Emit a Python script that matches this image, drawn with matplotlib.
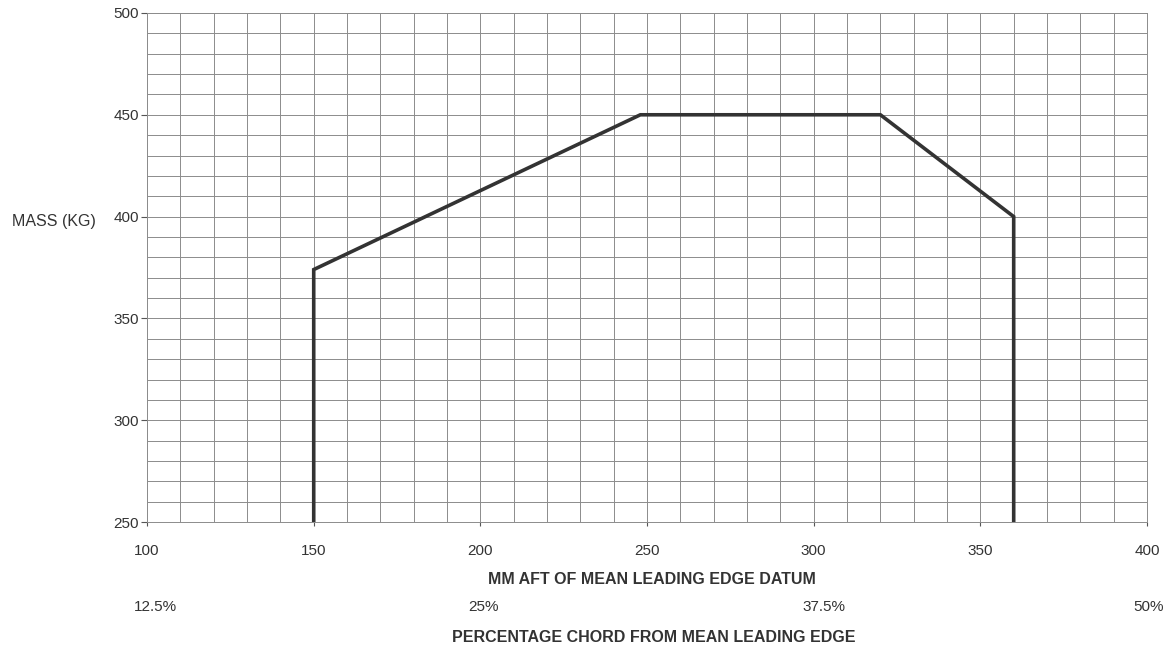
import matplotlib
matplotlib.use("Agg")
import matplotlib.pyplot as plt
import matplotlib.transforms as mtransforms
import numpy as np

# C of G envelope corners (mm aft of datum, mass kg)
envelope_mm = [150, 150, 248, 320, 360, 360]
envelope_kg = [250, 374, 450, 450, 400, 250]

x_ticks = [100, 150, 200, 250, 300, 350, 400]
y_ticks = [250, 300, 350, 400, 450, 500]

pct_labels = ["12.5%", "25%", "37.5%", "50%"]
pct_mm = [102.5, 201, 303, 400.5]

plt.rcParams["font.family"] = ["Liberation Sans", "DejaVu Sans"]

fig = plt.figure(figsize=(11.69, 6.47), dpi=100)
ax = fig.add_axes([0.1258, 0.193, 0.8554, 0.787])

ax.plot(envelope_mm, envelope_kg, color="#333333", linewidth=2.6,
        solid_joinstyle="miter", zorder=3)

ax.set_xlim(100, 400)
ax.set_ylim(250, 500)
ax.set_xticks(x_ticks)
ax.set_yticks(y_ticks)
ax.set_xticks(np.arange(100, 401, 10), minor=True)
ax.set_yticks(np.arange(250, 501, 10), minor=True)
ax.grid(True, which="both", color="#8c8c8c", linewidth=0.7)
ax.set_axisbelow(True)

for side in ["left", "bottom", "top", "right"]:
    ax.spines[side].set_color("#8c8c8c")
    ax.spines[side].set_linewidth(0.7)

ax.tick_params(axis="y", which="major", length=4, width=0.8, color="#555555",
               labelsize=11, labelcolor="#333333", pad=2)
ax.tick_params(axis="x", which="major", length=3, width=0.8, color="#555555",
               labelsize=11, labelcolor="#333333", pad=13)
ax.tick_params(which="minor", length=0)

fig.text(0.046, 0.657, "MASS (KG)", ha="center", va="center",
         fontsize=11.5, color="#333333")
fig.text(0.558, 0.104, "MM AFT OF MEAN LEADING EDGE DATUM", ha="center",
         va="center", fontsize=11.5, fontweight="bold", color="#333333")
fig.text(0.559, 0.014, "PERCENTAGE CHORD FROM MEAN LEADING EDGE", ha="center",
         va="center", fontsize=11.5, fontweight="bold", color="#333333")

trans = mtransforms.blended_transform_factory(ax.transData, fig.transFigure)
for lab, xm in zip(pct_labels, pct_mm):
    ax.text(xm, 0.062, lab, transform=trans, ha="center", va="center",
            fontsize=11, color="#333333", clip_on=False)

fig.savefig("out.png", dpi=100)
